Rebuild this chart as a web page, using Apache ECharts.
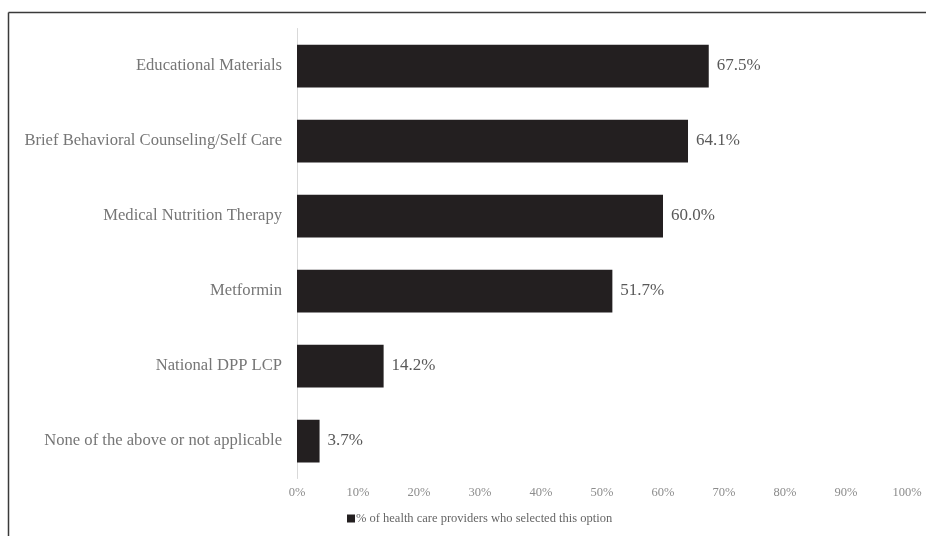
<!DOCTYPE html>
<html>
<head>
<meta charset="utf-8">
<script src="https://cdn.jsdelivr.net/npm/echarts@6/dist/echarts.min.js"></script>
<style>
  html, body { margin: 0; padding: 0; background: #fff; }
  #chart { width: 926px; height: 536px; }
</style>
</head>
<body>
<div id="chart"></div>
<script>
// categories, top to bottom as shown
var categories = [
  'Educational Materials',
  'Brief Behavioral Counseling/Self Care',
  'Medical Nutrition Therapy',
  'Metformin',
  'National DPP LCP',
  'None of the above or not applicable'
];
var values = [67.5, 64.1, 60.0, 51.7, 14.2, 3.7];
var seriesName = '% of health care providers who selected this option';

var serif = '"Liberation Serif", "DejaVu Serif", serif';
var myChart = echarts.init(document.getElementById('chart'));

var option = {
  animation: false,
  textStyle: { fontFamily: serif },
  grid: { left: 297, right: 19, top: 28.5, bottom: 57.5, containLabel: false },
  legend: {
    bottom: 6,
    left: 342,
    itemWidth: 8,
    itemHeight: 8,
    itemGap: 5,
    icon: 'rect',
    textStyle: { fontFamily: serif, fontSize: 12.5, color: '#666666', padding: [0, 0, 0, -4] },
    data: [seriesName]
  },
  xAxis: {
    type: 'value',
    min: 0,
    max: 100,
    interval: 10,
    axisLine: { show: false },
    axisTick: { show: false },
    splitLine: { show: false },
    axisLabel: {
      formatter: '{value}%',
      fontFamily: serif,
      fontSize: 12.5,
      color: '#8c8c8c',
      margin: 8
    }
  },
  yAxis: {
    type: 'category',
    inverse: true,
    data: categories,
    axisLine: { show: true, lineStyle: { color: '#d9d9d9', width: 1 } },
    axisTick: { show: false },
    axisLabel: {
      fontFamily: serif,
      fontSize: 16.6,
      color: '#767676',
      margin: 15,
      padding: [8, 0, 0, 0]
    }
  },
  series: [{
    name: seriesName,
    type: 'bar',
    data: values,
    barWidth: '57%',
    itemStyle: { color: '#231f20' },
    label: {
      show: true,
      position: 'right',
      distance: 8,
      padding: [8, 0, 0, 0],
      formatter: function (p) { return p.value.toFixed(1) + '%'; },
      fontFamily: serif,
      fontSize: 17,
      color: '#595959'
    }
  }],
  graphic: [
    { type: 'line', shape: { x1: 8.5, y1: 12.5, x2: 926, y2: 12.5 }, style: { stroke: '#3a3a3a', lineWidth: 1.5 } },
    { type: 'line', shape: { x1: 8.5, y1: 12.5, x2: 8.5, y2: 536 }, style: { stroke: '#3a3a3a', lineWidth: 1.5 } }
  ]
};

myChart.setOption(option);
</script>
</body>
</html>
